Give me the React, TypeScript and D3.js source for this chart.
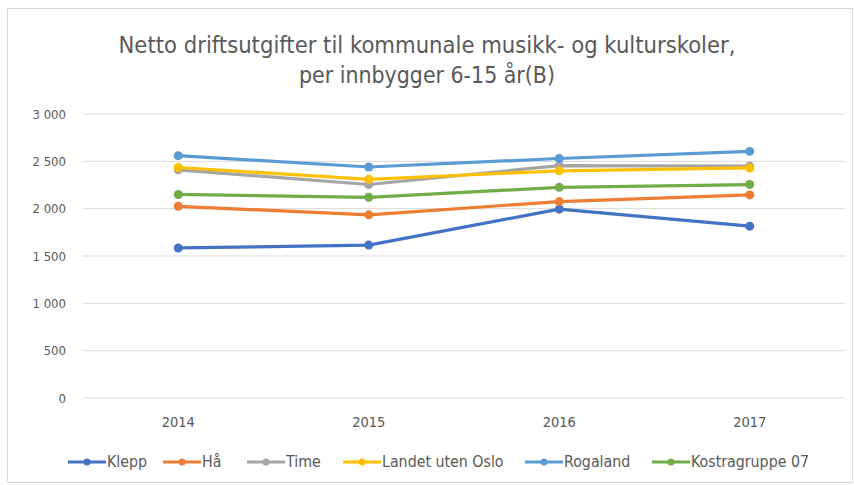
import React from "react";
import * as d3 from "d3";

const years = ["2014", "2015", "2016", "2017"];
const seriesNames = ["Klepp", "Hå", "Time", "Landet uten Oslo", "Rogaland", "Kostragruppe 07"];
const klepp = [1585, 1615, 1995, 1815];
const haa = [2025, 1935, 2075, 2145];
const time = [2410, 2255, 2455, 2450];
const landet = [2435, 2310, 2400, 2430];
const rogaland = [2560, 2440, 2530, 2605];
const kostra = [2150, 2120, 2225, 2255];
const colors = ["#4472C4", "#ED7D31", "#A5A5A5", "#FFC000", "#5B9BD5", "#70AD47"];
const yTicks = [0, 500, 1000, 1500, 2000, 2500, 3000];
const titleLines = ["Netto driftsutgifter til kommunale musikk- og kulturskoler,", "per innbygger 6-15 år(B)"];

const allSeries = [klepp, haa, time, landet, rogaland, kostra];

export default function App() {
  const W = 854, H = 485;
  const x = d3.scaleBand<string>().domain(years).range([83, 845]);
  const y = d3.scaleLinear().domain([0, 3000]).range([398, 114]);
  const fmt = (v: number) => d3.format(",")(v).replace(/,/g, " ");
  const line = d3
    .line<number>()
    .x((_, i) => (x(years[i]) as number) + x.bandwidth() / 2)
    .y((d) => y(d));
  const font = "'DejaVu Sans Condensed', 'Liberation Sans', sans-serif";
  const legendX = [68, 163, 247, 343, 525, 652];
  const titleLen = [617, 256];
  return (
    <svg width={W} height={H} style={{ position: "absolute", left: 0, top: 0, background: "#fff" }}>
      <rect x={7.5} y={8.5} width={845} height={474} fill="#fff" stroke="#d9d9d9" />
      {titleLines.map((t, i) => (
        <text key={i} x={427} y={53 + i * 30} textAnchor="middle" fontFamily={font} fontSize={22.5} fill="#595959"
          textLength={titleLen[i]} lengthAdjust="spacingAndGlyphs">
          {t}
        </text>
      ))}
      {yTicks.map((t) => (
        <g key={t}>
          <line x1={83} x2={845} y1={y(t)} y2={y(t)} stroke="#d9d9d9" strokeWidth={1} />
          <text x={66} y={y(t) + 4.5} textAnchor="end" fontFamily={font} fontSize={13} fill="#595959">
            {fmt(t)}
          </text>
        </g>
      ))}
      {years.map((yr) => (
        <text key={yr} x={(x(yr) as number) + x.bandwidth() / 2} y={427} textAnchor="middle" fontFamily={font} fontSize={14.5} fill="#595959">
          {yr}
        </text>
      ))}
      {allSeries.map((s, si) => (
        <g key={si}>
          <path d={line(s) as string} fill="none" stroke={colors[si]} strokeWidth={3.2} strokeLinejoin="round" strokeLinecap="round" />
          {s.map((v, i) => (
            <circle key={i} cx={(x(years[i]) as number) + x.bandwidth() / 2} cy={y(v)} r={4.5} fill={colors[si]} />
          ))}
        </g>
      ))}
      {seriesNames.map((n, i) => (
        <g key={n}>
          <line x1={legendX[i]} x2={legendX[i] + 38} y1={462} y2={462} stroke={colors[i]} strokeWidth={3.2} />
          <circle cx={legendX[i] + 19} cy={462} r={3.5} fill={colors[i]} />
          <text x={legendX[i] + 39} y={467} fontFamily={font} fontSize={15.8} fill="#595959">
            {n}
          </text>
        </g>
      ))}
    </svg>
  );
}
